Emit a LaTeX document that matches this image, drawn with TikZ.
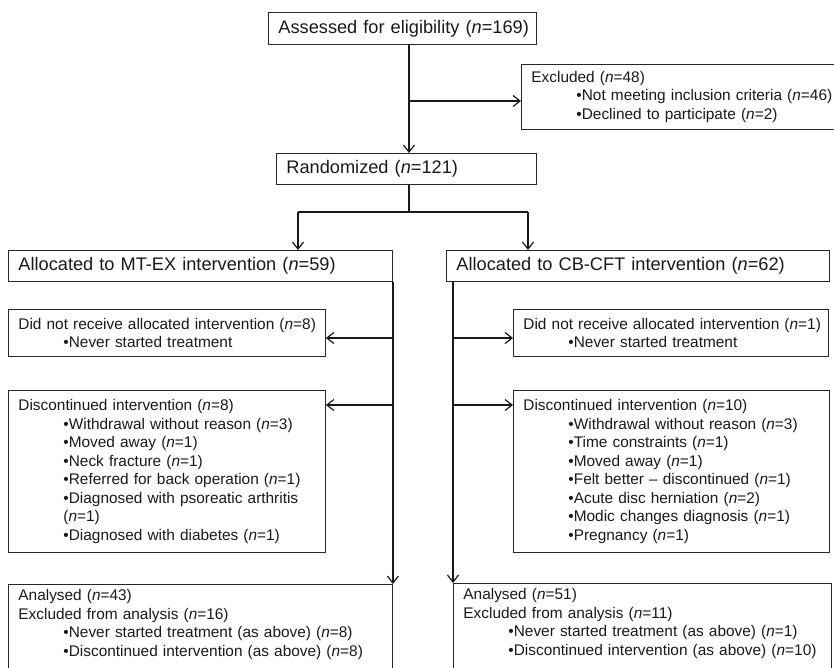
\documentclass[tikz,border=0pt]{standalone}
\usepackage{fontspec}
\setmainfont{Liberation Sans}
\usetikzlibrary{arrows.meta}
\newcommand{\nval}[1]{(\textit{n}=#1)}
\newcommand{\itm}{\hspace*{45pt}\textbullet}
\newcommand{\bigtxt}{\fontsize{18.2}{21}\selectfont}
\newcommand{\smalltxt}{\fontsize{15.4}{18.5}\selectfont}

\begin{document}
\begin{tikzpicture}[x=1pt, y=-1pt,
    box/.style={draw=black!85, line width=0.9pt, anchor=north west, align=left,
        inner xsep=10pt, inner ysep=0pt, text=black!90, font=\smalltxt},
    wire/.style={line width=1.2pt, draw=black!90},
    arr/.style={wire, -{Straight Barb[length=7pt, width=11pt]}}]
    \useasboundingbox (0,0) rectangle (834,667);

    % top of the chart
    \node[box, font=\bigtxt, text width=248pt, minimum height=32pt] (assess) at (268,12) {\mbox{Assessed for eligibility \nval{169}}};
    \node[box, text width=310pt, minimum height=65pt] (excl) at (521,64) {Excluded \nval{48}\\
        \itm Not meeting inclusion criteria \nval{46}\\
        \itm Declined to participate \nval{2}};
    \node[box, font=\bigtxt, text width=240pt, minimum height=31pt] (rand) at (276,153) {Randomized \nval{121}};

    % the two arms
    \node[box, font=\bigtxt, text width=364pt, minimum height=31pt] (mtex) at (8,250) {Allocated to MT-EX intervention \nval{59}};
    \node[box, font=\bigtxt, text width=363pt, minimum height=31pt] (cbcft) at (446,250) {Allocated to CB-CFT intervention \nval{62}};

    \node[box, text width=297pt, minimum height=47pt] (didL) at (8,309) {\mbox{Did not receive allocated intervention \nval{8}}\\
        \itm Never started treatment};
    \node[box, text width=295pt, minimum height=47pt] (didR) at (513,309) {\mbox{Did not receive allocated intervention \nval{1}}\\
        \itm Never started treatment};

    \node[box, text width=297pt, minimum height=162pt] (discL) at (8,390) {Discontinued intervention \nval{8}\\
        \itm Withdrawal without reason \nval{3}\\
        \itm Moved away \nval{1}\\
        \itm Neck fracture \nval{1}\\
        \itm Referred for back operation \nval{1}\\
        \itm Diagnosed with psoreatic arthritis\\
        \hspace*{45pt}\nval{1}\\
        \itm Diagnosed with diabetes \nval{1}};
    \node[box, text width=296pt, minimum height=162pt] (discR) at (513,390) {Discontinued intervention \nval{10}\\
        \itm Withdrawal without reason \nval{3}\\
        \itm Time constraints \nval{1}\\
        \itm Moved away \nval{1}\\
        \itm Felt better -- discontinued \nval{1}\\
        \itm Acute disc herniation \nval{2}\\
        \itm Modic changes diagnosis \nval{1}\\
        \itm Pregnancy \nval{1}};

    % analysis boxes run off the page
    \node[box, minimum width=384pt, minimum height=100pt] (anlL) at (8,584) {};
    \node[box, draw=none, inner ysep=5pt, text width=364pt] (anlLtxt) at (anlL.north west) {Analysed \nval{43}\\
        Excluded from analysis \nval{16}\\
        \itm Never started treatment (as above) \nval{8}\\
        \itm Discontinued intervention (as above) \nval{8}};
    \node[box, minimum width=378pt, minimum height=100pt] (anlR) at (453,583) {};
    \node[box, draw=none, inner ysep=5pt, text width=358pt] (anlRtxt) at (anlR.north west) {Analysed \nval{51}\\
        Excluded from analysis \nval{11}\\
        \itm Never started treatment (as above) \nval{1}\\
        \itm Discontinued intervention (as above) \nval{10}};

    % connectors
    \coordinate (split) at (409,101);
    \coordinate (fork) at (409,212);
    \coordinate (forkL) at (298,212);
    \coordinate (forkR) at (528,212);
    \draw[wire] (assess.south -| split) -- (split);
    \draw[arr] (split) -- (rand.north -| split);
    \draw[arr] (split) -- (split -| excl.west);
    \draw[wire] (rand.south -| fork) -- (fork);
    \draw[wire] (forkL) -- (forkR);
    \draw[arr] (forkL) -- (forkL |- mtex.north);
    \draw[arr] (forkR) -- (forkR |- cbcft.north);

    \coordinate (didLin) at (392,338);
    \coordinate (discLin) at (392,405);
    \coordinate (didRin) at (453,338);
    \coordinate (discRin) at (453,405);
    \draw[arr] (mtex.south east) -- (anlL.north east);
    \draw[arr] (anlR.north west |- cbcft.south) -- (anlR.north west);
    \draw[arr] (didLin) -- (didLin -| didL.east);
    \draw[arr] (discLin) -- (discLin -| discL.east);
    \draw[arr] (didRin) -- (didRin -| didR.west);
    \draw[arr] (discRin) -- (discRin -| discR.west);
\end{tikzpicture}
\end{document}
